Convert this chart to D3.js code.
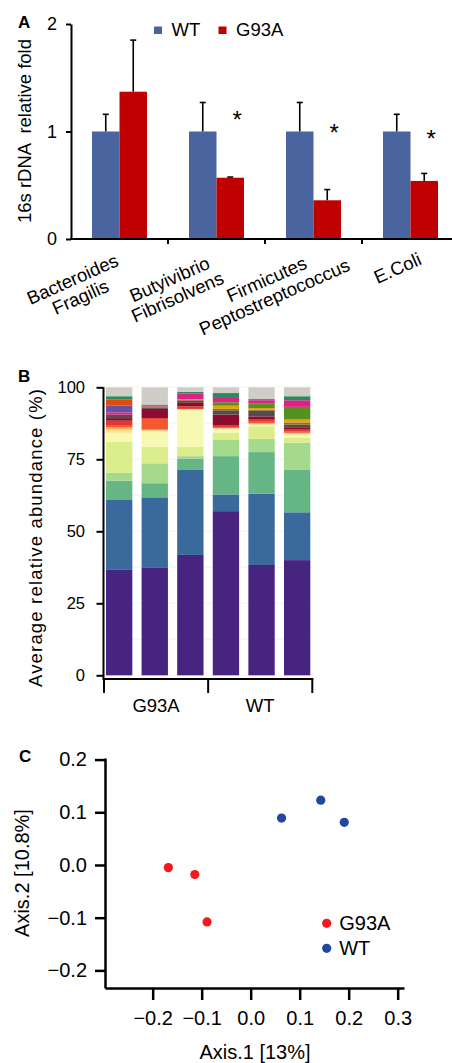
<!DOCTYPE html>
<html>
<head>
<meta charset="utf-8">
<script src="https://cdn.jsdelivr.net/npm/d3@7"></script>
<style>
  body { margin: 0; background: #fff; }
  svg { display: block; font-family: "Liberation Sans", Arial, sans-serif; }
</style>
</head>
<body>
<div id="chart"></div>
<script>
const W = 452, H = 1063;

// ---- panel A : qPCR, fold change vs WT
const qpcrTaxa = ['Bacteroides\nFragilis', 'Butyivibrio\nFibrisolvens', 'Firmicutes\nPeptostreptococcus', 'E.Coli'];
const qpcrGroups = ['WT', 'G93A'];
const wtFold = [1, 1, 1, 1];
const wtSem = [0.16, 0.27, 0.27, 0.16];
const g93aFold = [1.37, 0.57, 0.36, 0.54];
const g93aSem = [0.48, 0.006, 0.10, 0.07];
const starLevel = [null, 1.16, 1.04, 0.99];
const foldTicks = [0, 1, 2];

// ---- panel B : relative abundance per mouse
const samples = ['G93A-1', 'G93A-2', 'G93A-3', 'WT-1', 'WT-2', 'WT-3'];
const sampleGroups = ['G93A', 'WT'];
const taxonLabels = ['OTU01', 'OTU02', 'OTU03', 'OTU04', 'OTU05', 'OTU06', 'OTU07', 'OTU08', 'OTU09', 'OTU10',
                     'OTU11', 'OTU12', 'OTU13', 'OTU14', 'OTU15', 'OTU16', 'OTU17', 'OTU18', 'OTU19', 'Other'];
const g93a1 = [36.8, 24.3, 6.5, 2.7, 10.8, 3.1, 1.1, 0.8, 0.8, 1.5, 0.9, 1.2, 0, 0, 0, 0.8, 2.3, 2.1, 1.2, 3.1];
const g93a2 = [37.5, 24.3, 4.9, 6.9, 5.8, 5.4, 0.2, 0.3, 3.7, 0.3, 3.2, 0.5, 0.4, 0, 0, 0.2, 0.4, 0, 0, 6.0];
const g93a3 = [41.8, 29.5, 4.0, 0.8, 3.3, 12.8, 0.1, 0.1, 0.1, 0.9, 1.4, 0.7, 0, 0.4, 0, 1.9, 0, 0, 0.6, 1.6];
const wt1 = [57.0, 5.8, 13.3, 5.8, 2.4, 1.2, 0.2, 0.2, 0.3, 0.5, 3.8, 1.5, 0.5, 1.1, 1.2, 1.5, 0, 0, 1.7, 2.0];
const wt2 = [38.3, 24.8, 14.4, 4.6, 4.4, 0.5, 0.2, 0.4, 0.7, 0.7, 0.9, 2.1, 0.2, 0.6, 1.5, 1.2, 0.4, 0, 0, 4.1];
const wt3 = [40.0, 16.6, 14.7, 9.5, 1.8, 1.0, 0.3, 0.3, 0.4, 0.7, 0.6, 1.1, 0.8, 1.0, 4.4, 2.3, 0, 0, 1.4, 3.1];
const abundanceTicks = [0, 25, 50, 75, 100];

// ---- panel C : PCoA
const pcoaGroup = ['G93A', 'G93A', 'G93A', 'WT', 'WT', 'WT'];
const axis1 = [-0.168, -0.114, -0.089, 0.063, 0.143, 0.191];
const axis2 = [-0.005, -0.018, -0.108, 0.089, 0.123, 0.081];
const axis1Ticks = [-0.2, -0.1, 0, 0.1, 0.2, 0.3];
const axis2Ticks = [-0.2, -0.1, 0, 0.1, 0.2];

const taxonColours = ['#46247f', '#3a699c', '#66b585', '#a5d98b', '#dcee8c', '#f7f9b1', '#fde08b', '#fdae61',
                      '#f4592e', '#e2382b', '#8e0a2e', '#574b4b', '#9c6b22', '#e2a30b', '#56901f', '#dc2283',
                      '#6b4fa1', '#dc4d0c', '#2b8a5f', '#d0ccc7'];
const groupColA = {'WT': '#4a64a0', 'G93A': '#c00000'};
const groupColC = {'G93A': '#f21a1c', 'WT': '#2346a0'};

var svg = d3.select('#chart')
  .append('svg')
  .attr('width', W)
  .attr('height', H);
svg.append('rect').attr('width', W).attr('height', H).attr('fill', '#fff');

function panelLetter(txt, x, y, size) {
  svg.append('text')
    .attr('x', x).attr('y', y)
    .style('font-size', size + 'px')
    .style('font-weight', 'bold')
    .text(txt);
}

function styleAxis(g, fs, sw) {
  g.selectAll('path, line').attr('stroke', '#000').attr('stroke-width', sw);
  g.selectAll('text').style('font-size', fs + 'px').attr('fill', '#000').style('font-family', 'inherit');
}

// ================= A =================
function drawA() {
  const g = svg.append('g');
  const xA = d3.scaleBand().domain(qpcrTaxa).range([71, 459]);
  const yA = d3.scaleLinear().domain([0, 2]).range([239, 24]);
  const barW = 27.5;
  const xSub = d3.scaleBand().domain(qpcrGroups).range([-barW, barW]);
  const mid = d => xA(d) + xA.bandwidth() / 2;

  const rows = [];
  qpcrTaxa.forEach((t, i) => {
    rows.push({taxon: t, group: 'WT', v: wtFold[i], e: wtSem[i]});
    rows.push({taxon: t, group: 'G93A', v: g93aFold[i], e: g93aSem[i]});
  });

  // error bars first so bars sit on top of the lower part
  g.selectAll('.err')
    .data(rows)
    .enter().append('line')
    .attr('x1', d => mid(d.taxon) + xSub(d.group) + barW / 2)
    .attr('x2', d => mid(d.taxon) + xSub(d.group) + barW / 2)
    .attr('y1', d => yA(d.v))
    .attr('y2', d => yA(d.v + d.e))
    .attr('stroke', '#000').attr('stroke-width', 1.6);
  g.selectAll('.cap')
    .data(rows)
    .enter().append('line')
    .attr('x1', d => mid(d.taxon) + xSub(d.group) + barW / 2 - 3)
    .attr('x2', d => mid(d.taxon) + xSub(d.group) + barW / 2 + 3)
    .attr('y1', d => yA(d.v + d.e))
    .attr('y2', d => yA(d.v + d.e))
    .attr('stroke', '#000').attr('stroke-width', 1.6);

  g.selectAll('.bar')
    .data(rows)
    .enter().append('rect')
    .attr('x', d => mid(d.taxon) + xSub(d.group))
    .attr('y', d => yA(d.v))
    .attr('width', xSub.bandwidth())
    .attr('height', d => yA(0) - yA(d.v))
    .attr('fill', d => groupColA[d.group]);

  // significance stars
  g.selectAll('.star')
    .data(qpcrTaxa.filter((t, i) => starLevel[i] != null))
    .enter().append('text')
    .attr('x', d => mid(d) + xSub('G93A') + barW / 2 + 7)
    .attr('y', d => yA(starLevel[qpcrTaxa.indexOf(d)]) + 14)
    .attr('text-anchor', 'middle')
    .style('font-size', '24px')
    .text('*');

  const yAx = g.append('g')
    .attr('transform', 'translate(71,0)')
    .call(d3.axisLeft(yA).tickValues(foldTicks).tickFormat(d3.format('d')).tickSize(5).tickSizeOuter(0).tickPadding(9));
  styleAxis(yAx, 18, 2);

  // category axis with ticks between the groups
  g.append('line').attr('x1', 70).attr('x2', 459).attr('y1', 239).attr('y2', 239)
    .attr('stroke', '#000').attr('stroke-width', 2);
  g.selectAll('.xtick')
    .data(qpcrTaxa.slice(1))
    .enter().append('line')
    .attr('x1', d => xA(d)).attr('x2', d => xA(d))
    .attr('y1', 239).attr('y2', 244)
    .attr('stroke', '#000').attr('stroke-width', 2);

  const nudge = {'E.Coli': [30, -20]};
  const lab = g.selectAll('.xlab')
    .data(qpcrTaxa)
    .enter().append('text')
    .attr('transform', d => {
      const n = nudge[d] || [0, 0];
      return `translate(${mid(d) - 43 + n[0]},${288 + n[1]}) rotate(-24)`;
    })
    .attr('text-anchor', 'middle')
    .style('font-size', '18.5px');
  lab.selectAll('tspan')
    .data(d => {
      const parts = d.split('\n');
      return parts.map((s, i) => ({s: s, dy: i === 0 ? (-(parts.length - 1) / 2 * 1.05 + 0.35) : 1.05}));
    })
    .enter().append('tspan')
    .attr('x', 0)
    .attr('dy', d => d.dy + 'em')
    .text(d => d.s);

  g.append('text')
    .attr('transform', 'translate(31,131) rotate(-90)')
    .attr('text-anchor', 'middle')
    .style('font-size', '18.5px')
    .style('white-space', 'pre')
    .text('16s rDNA  relative fold');

  // legend
  const legX = {'WT': 154, 'G93A': 218.5};
  const leg = g.selectAll('.leg').data(qpcrGroups).enter().append('g')
    .attr('transform', d => `translate(${legX[d]},26.5)`);
  leg.append('rect').attr('width', 8).attr('height', 7.5).attr('fill', d => groupColA[d]);
  leg.append('text').attr('x', 17.5).attr('y', 9).style('font-size', '18.5px').text(d => d);

  panelLetter('A', 18, 28, 17);
}

// ================= B =================
function drawB() {
  const g = svg.append('g');
  const xB = d3.scaleBand().domain(samples).range([104, 312.3]).paddingInner(0.26).paddingOuter(0.056);
  const yB = d3.scaleLinear().domain([0, 100]).range([675.3, 387.3]);
  const sampleValues = [g93a1, g93a2, g93a3, wt1, wt2, wt3];
  const table = samples.map((s, i) => {
    const row = {sample: s};
    taxonLabels.forEach((t, j) => { row[t] = sampleValues[i][j]; });
    return row;
  });
  const stack = d3.stack().keys(taxonLabels)(table);
  const colour = d3.scaleOrdinal().domain(taxonLabels).range(taxonColours);

  g.selectAll('.grid')
    .data(d3.range(0, 100.1, 12.5))
    .enter().append('line')
    .attr('x1', 104).attr('x2', 312.3)
    .attr('y1', d => yB(d)).attr('y2', d => yB(d))
    .attr('stroke', '#efefef').attr('stroke-width', 0.7);

  g.selectAll('.layer')
    .data(stack)
    .enter().append('g')
    .attr('fill', d => colour(d.key))
    .selectAll('rect')
    .data(d => d)
    .enter().append('rect')
    .attr('x', d => xB(d.data.sample))
    .attr('y', d => yB(d[1]))
    .attr('width', xB.bandwidth())
    .attr('height', d => Math.max(0, yB(d[0]) - yB(d[1])));

  const yAx = g.append('g')
    .attr('transform', 'translate(103.5,0)')
    .call(d3.axisLeft(yB).tickValues(abundanceTicks).tickSize(7).tickSizeOuter(0).tickPadding(11.5));
  yAx.select('.domain').remove();
  styleAxis(yAx, 16.5, 2);
  g.append('line').attr('x1', 103.5).attr('x2', 103.5).attr('y1', yB(100)).attr('y2', 680)
    .attr('stroke', '#000').attr('stroke-width', 2);

  // group bracket axis
  const ends = [xB.range()[0], (xB(samples[2]) + xB.bandwidth() + xB(samples[3])) / 2, xB.range()[1]];
  g.append('line').attr('x1', 103).attr('x2', ends[2] + 1).attr('y1', 679).attr('y2', 679)
    .attr('stroke', '#000').attr('stroke-width', 2);
  g.selectAll('.gtick')
    .data(ends)
    .enter().append('line')
    .attr('x1', d => d).attr('x2', d => d)
    .attr('y1', 679).attr('y2', 693)
    .attr('stroke', '#000').attr('stroke-width', 2);
  g.selectAll('.glab')
    .data(sampleGroups)
    .enter().append('text')
    .attr('x', (d, i) => (ends[i] + ends[i + 1]) / 2)
    .attr('y', 711.5)
    .attr('text-anchor', 'middle')
    .style('font-size', '18.5px')
    .text(d => d);

  g.append('text')
    .attr('transform', 'translate(42,538) rotate(-90)')
    .attr('text-anchor', 'middle')
    .attr('textLength', 298)
    .attr('lengthAdjust', 'spacing')
    .style('font-size', '18.5px')
    .text('Average relative abundance (%)');

  panelLetter('B', 18, 382, 17);
}

// ================= C =================
function drawC() {
  const g = svg.append('g');
  const xC = d3.scaleLinear().domain([-0.2973, 0.3129]).range([105, 404]);
  const yC = d3.scaleLinear().domain([-0.2334, 0.203]).range([988, 758]);
  const fmt = d3.format('.1f');

  const yAx = g.append('g')
    .attr('transform', 'translate(105,0)')
    .call(d3.axisLeft(yC).tickValues(axis2Ticks).tickFormat(fmt).tickSize(10).tickSizeOuter(0).tickPadding(8));
  styleAxis(yAx, 20, 2.5);
  const xAx = g.append('g')
    .attr('transform', 'translate(0,988)')
    .call(d3.axisBottom(xC).tickValues(axis1Ticks).tickFormat(fmt).tickSize(12).tickSizeOuter(0).tickPadding(10.5));
  styleAxis(xAx, 20, 2.5);

  const pts = axis1.map((v, i) => ({x: v, y: axis2[i], group: pcoaGroup[i]}));
  g.selectAll('.pt')
    .data(pts)
    .enter().append('circle')
    .attr('cx', d => xC(d.x))
    .attr('cy', d => yC(d.y))
    .attr('r', 4.6)
    .attr('fill', d => groupColC[d.group]);

  const legend = g.selectAll('.leg')
    .data(['G93A', 'WT'])
    .enter().append('g')
    .attr('transform', (d, i) => `translate(326.7,${923.3 + i * 25})`);
  legend.append('circle').attr('r', 4.6).attr('fill', d => groupColC[d]);
  legend.append('text').attr('x', 12.5).attr('y', 7).style('font-size', '20px').text(d => d);

  g.append('text')
    .attr('transform', 'translate(29,873) rotate(-90)')
    .attr('text-anchor', 'middle')
    .style('font-size', '20px')
    .text('Axis.2 [10.8%]');
  g.append('text')
    .attr('x', 255).attr('y', 1059)
    .attr('text-anchor', 'middle')
    .style('font-size', '20px')
    .text('Axis.1 [13%]');

  panelLetter('C', 19, 762, 17);
}

drawA();
drawB();
drawC();
</script>
</body>
</html>
